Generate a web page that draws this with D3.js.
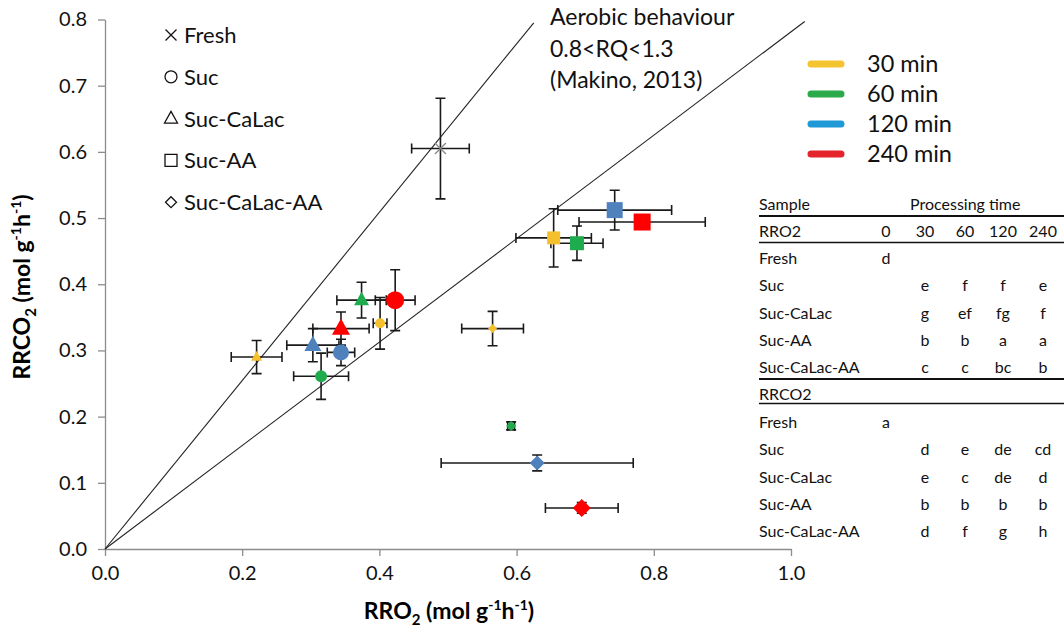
<!DOCTYPE html>
<html>
<head>
<meta charset="utf-8">
<script src="https://cdn.jsdelivr.net/npm/d3@7"></script>
<style>
  html, body { margin: 0; padding: 0; background: #fff; }
  svg { display: block; font-family: Lato, 'Open Sans', sans-serif; }
  .axis path, .axis line { stroke: #8c8c8c; stroke-width: 1.3; }
  .axis text { font-size: 20px; fill: #111; font-family: Lato, sans-serif; }
</style>
</head>
<body>
<svg id="chart" width="1064" height="633"></svg>
<script>
// --- data ---
var pointSample = ['Fresh', 'Suc', 'Suc', 'Suc', 'Suc', 'Suc-CaLac', 'Suc-CaLac', 'Suc-CaLac', 'Suc-CaLac',
  'Suc-AA', 'Suc-AA', 'Suc-AA', 'Suc-AA', 'Suc-CaLac-AA', 'Suc-CaLac-AA', 'Suc-CaLac-AA', 'Suc-CaLac-AA']
var pointTime = [0, 30, 60, 120, 240, 30, 60, 120, 240, 30, 60, 120, 240, 30, 60, 120, 240]
var pointRRO2 = [0.489, 0.401, 0.315, 0.344, 0.423, 0.221, 0.374, 0.303, 0.344, 0.654, 0.688, 0.743, 0.783, 0.565, 0.592, 0.630, 0.695]
var pointRRCO2 = [0.605, 0.341, 0.261, 0.297, 0.376, 0.290, 0.376, 0.308, 0.333, 0.470, 0.462, 0.512, 0.494, 0.333, 0.186, 0.130, 0.062]
var errRRO2 = [0.042, 0.010, 0.040, 0.020, 0.029, 0.037, 0.036, 0.038, 0.041, 0.055, 0.038, 0.083, 0.092, 0.045, 0.005, 0.140, 0.053]
var errRRCO2 = [0.076, 0.039, 0.035, 0.020, 0.046, 0.025, 0.027, 0.025, 0.025, 0.044, 0.026, 0.030, 0.008, 0.026, 0.006, 0.012, 0.008]

// RQ boundary lines (RQ = 1.3 and RQ = 0.8) from the origin
var rqLineA = [[0, 0], [0.625, 0.795]]
var rqLineB = [[0, 0], [1.02, 0.797]]

var xTicks = [0, 0.2, 0.4, 0.6, 0.8, 1.0]
var yTicks = [0, 0.1, 0.2, 0.3, 0.4, 0.5, 0.6, 0.7, 0.8]

var sampleNames = ['Fresh', 'Suc', 'Suc-CaLac', 'Suc-AA', 'Suc-CaLac-AA']
var timeLabels = ['30 min', '60 min', '120 min', '240 min']
var noteLines = ['Aerobic behaviour', '0.8<RQ<1.3', '(Makino, 2013)']

// significance letters table
var tableCols = ['0', '30', '60', '120', '240']
var rro2Letters = [['d', '', '', '', ''], ['', 'e', 'f', 'f', 'e'], ['', 'g', 'ef', 'fg', 'f'], ['', 'b', 'b', 'a', 'a'], ['', 'c', 'c', 'bc', 'b']]
var rrco2Letters = [['a', '', '', '', ''], ['', 'd', 'e', 'de', 'cd'], ['', 'e', 'c', 'de', 'd'], ['', 'b', 'b', 'b', 'b'], ['', 'd', 'f', 'g', 'h']]

// --- styles ---
var markerColor = { 0: '#777', 30: '#f5c02c', 60: '#1fac4f', 120: '#4f81bd', 240: '#ff0000' }
var legendColor = ['#f4c531', '#2baa4a', '#1f9ad6', '#e3242b']
// marker sizes in the figure vary point by point (px across)
var markerPx = [11, 10, 12, 16, 18, 11, 15, 17, 18, 13, 14, 16, 17, 9, 10, 15, 18]

// shape path of side/diameter s, centred on 0,0
function shapePath (name, s) {
  var h = s / 2
  if (name === 'Fresh') return 'M' + -h + ',' + -h + 'L' + h + ',' + h + 'M' + h + ',' + -h + 'L' + -h + ',' + h
  if (name === 'Suc') return d3.symbol().type(d3.symbolCircle).size(Math.PI * h * h)()
  if (name === 'Suc-CaLac') {
    var th = s * 0.9
    return 'M0,' + (-th * 0.62) + 'L' + h + ',' + (th * 0.38) + 'L' + -h + ',' + (th * 0.38) + 'Z'
  }
  if (name === 'Suc-AA') return 'M' + -h + ',' + -h + 'H' + h + 'V' + h + 'H' + -h + 'Z'
  return 'M0,' + -h + 'L' + h + ',0L0,' + h + 'L' + -h + ',0Z'
}

var svg = d3.select('#chart')
var x = d3.scaleLinear().domain([0, 1]).range([105, 791])
var y = d3.scaleLinear().domain([0, 0.8]).range([549, 19.5])

// axes
svg.append('g')
  .attr('class', 'axis')
  .attr('transform', 'translate(0,' + y(0) + ')')
  .call(d3.axisBottom(x).tickValues(xTicks).tickFormat(d3.format('.1f')).tickSize(7).tickSizeOuter(0).tickPadding(10))
svg.append('g')
  .attr('class', 'axis')
  .attr('transform', 'translate(' + x(0) + ',0)')
  .call(d3.axisLeft(y).tickValues(yTicks).tickFormat(d3.format('.1f')).tickSize(7).tickSizeOuter(0).tickPadding(11))

// axis titles with sub/superscripts
function unitTitle (sel, main) {
  sel.append('tspan').text(main)
  sel.append('tspan').attr('font-size', '15px').attr('dy', 6).text('2')
  sel.append('tspan').attr('dy', -6).text(' (mol g')
  sel.append('tspan').attr('font-size', '14px').attr('dy', -9).text('-1')
  sel.append('tspan').attr('dy', 9).text('h')
  sel.append('tspan').attr('font-size', '14px').attr('dy', -9).text('-1')
  sel.append('tspan').attr('dy', 9).text(')')
}
svg.append('text')
  .attr('x', 449).attr('y', 619)
  .attr('text-anchor', 'middle')
  .attr('font-size', '23px').attr('font-weight', 'bold')
  .call(unitTitle, 'RRO')
svg.append('text')
  .attr('transform', 'translate(30,287) rotate(-90)')
  .attr('text-anchor', 'middle')
  .attr('font-size', '23px').attr('font-weight', 'bold')
  .call(unitTitle, 'RRCO')

// RQ lines
var line = d3.line().x(function (d) { return x(d[0]) }).y(function (d) { return y(d[1]) })
svg.selectAll('.rq').data([rqLineA, rqLineB]).enter().append('path')
  .attr('class', 'rq')
  .attr('d', line)
  .attr('fill', 'none').attr('stroke', '#222').attr('stroke-width', 1.1)

// note
svg.append('g').selectAll('text').data(noteLines).enter().append('text')
  .attr('x', 550).attr('y', function (d, i) { return 25 + i * 31.5 })
  .attr('font-size', '23px').attr('fill', '#111')
  .text(function (d) { return d })

// error bars
var pts = d3.range(pointRRO2.length)
var cap = 5
var eb = svg.append('g').attr('stroke', '#1a1a1a').attr('stroke-width', 1.6).attr('fill', 'none')
pts.forEach(function (i) {
  var cx = x(pointRRO2[i])
  var cy = y(pointRRCO2[i])
  var x0 = x(pointRRO2[i] - errRRO2[i])
  var x1 = x(pointRRO2[i] + errRRO2[i])
  var y0 = y(pointRRCO2[i] - errRRCO2[i])
  var y1 = y(pointRRCO2[i] + errRRCO2[i])
  eb.append('path').attr('d',
    'M' + x0 + ',' + cy + 'H' + x1 +
    'M' + x0 + ',' + (cy - cap) + 'V' + (cy + cap) +
    'M' + x1 + ',' + (cy - cap) + 'V' + (cy + cap) +
    'M' + cx + ',' + y0 + 'V' + y1 +
    'M' + (cx - cap) + ',' + y0 + 'H' + (cx + cap) +
    'M' + (cx - cap) + ',' + y1 + 'H' + (cx + cap))
})

// markers
svg.append('g').selectAll('path').data(pts).enter().append('path')
  .attr('transform', function (i) { return 'translate(' + x(pointRRO2[i]) + ',' + y(pointRRCO2[i]) + ')' })
  .attr('d', function (i) { return shapePath(pointSample[i], markerPx[i]) })
  .attr('fill', function (i) { return pointSample[i] === 'Fresh' ? 'none' : markerColor[pointTime[i]] })
  .attr('stroke', function (i) { return pointSample[i] === 'Fresh' ? '#888' : 'none' })
  .attr('stroke-width', 1.3)

// shape legend
var legendPx = { 'Fresh': 11, 'Suc': 12, 'Suc-CaLac': 13, 'Suc-AA': 12, 'Suc-CaLac-AA': 11 }
var shapeLegend = svg.append('g')
sampleNames.forEach(function (name, i) {
  var cy = 35 + i * 41.8
  shapeLegend.append('path')
    .attr('transform', 'translate(171,' + cy + ')')
    .attr('d', shapePath(name, legendPx[name]))
    .attr('fill', 'none').attr('stroke', '#111').attr('stroke-width', 1.3)
  shapeLegend.append('text')
    .attr('x', 184).attr('y', cy + 8)
    .attr('font-size', '22px').attr('fill', '#111')
    .text(name)
})

// time legend
var timeLegend = svg.append('g')
timeLabels.forEach(function (label, i) {
  var cy = 64 + i * 30
  timeLegend.append('line')
    .attr('x1', 811).attr('x2', 841).attr('y1', cy).attr('y2', cy)
    .attr('stroke', legendColor[i]).attr('stroke-width', 7).attr('stroke-linecap', 'round')
  timeLegend.append('text')
    .attr('x', 867).attr('y', cy + 8)
    .attr('font-size', '23.5px').attr('fill', '#111')
    .text(label)
})

// letters table
var tbl = svg.append('g').attr('font-size', '16px').attr('fill', '#111')
var colX = [886, 925, 965, 1003, 1043]
var tableLeft = 759
function hRule (yy, w) {
  tbl.append('line').attr('x1', tableLeft).attr('x2', 1064).attr('y1', yy).attr('y2', yy)
    .attr('stroke', '#111').attr('stroke-width', w)
}
tbl.append('text').attr('x', tableLeft).attr('y', 210).text('Sample')
tbl.append('text').attr('x', 910).attr('y', 210).text('Processing time')
hRule(216, 2)
tbl.append('text').attr('x', tableLeft).attr('y', 237).text('RRO2')
tableCols.forEach(function (c, j) {
  tbl.append('text').attr('x', colX[j]).attr('y', 237).attr('text-anchor', 'middle').text(c)
})
hRule(242.5, 1.3)
function letterRows (letters, y0) {
  sampleNames.forEach(function (name, i) {
    var yy = y0 + i * 27.3
    tbl.append('text').attr('x', tableLeft).attr('y', yy).text(name)
    letters[i].forEach(function (l, j) {
      if (l) tbl.append('text').attr('x', colX[j]).attr('y', yy).attr('text-anchor', 'middle').text(l)
    })
  })
}
letterRows(rro2Letters, 264)
hRule(379, 2)
tbl.append('text').attr('x', tableLeft).attr('y', 400).text('RRCO2')
hRule(403.5, 1.3)
letterRows(rrco2Letters, 428)
</script>
</body>
</html>
